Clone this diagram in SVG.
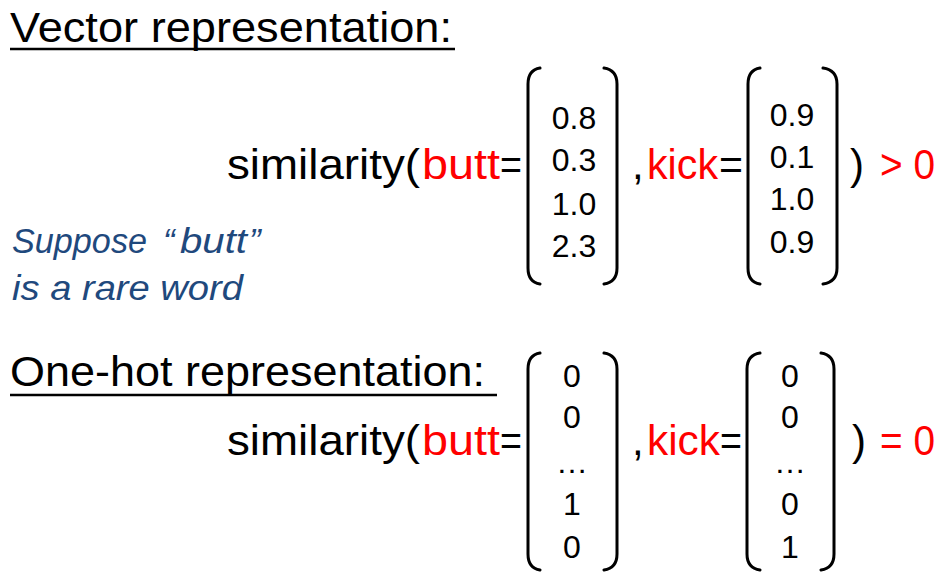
<svg xmlns="http://www.w3.org/2000/svg" width="947" height="578" viewBox="0 0 947 578">
<style>
.t{font-family:"Liberation Sans",Arial,sans-serif;fill:#000}
.big{font-size:42px}
.num{font-size:32px;text-anchor:middle}
.red{fill:#FF0000}
.it{font-family:"Liberation Sans",Arial,sans-serif;font-style:italic;font-size:35px;fill:#1F497D}
.br{fill:none;stroke:#000;stroke-width:3;stroke-linecap:round}
.ul{stroke:#000;stroke-width:2.5}
</style>
<rect width="947" height="578" fill="#fff"/>
<g id="vector-section">
<text class="t big" x="10" y="42" textLength="442" lengthAdjust="spacingAndGlyphs">Vector representation:</text>
<line class="ul" x1="10" y1="49" x2="455" y2="49"/>
<text class="t big" x="227" y="179" textLength="193" lengthAdjust="spacingAndGlyphs">similarity(</text>
<text class="t big red" x="422" y="179" textLength="78" lengthAdjust="spacingAndGlyphs">butt</text>
<text class="t big" x="500" y="179" textLength="22" lengthAdjust="spacingAndGlyphs">=</text>
<path class="br" d="M540 68 Q528 70 528 84 V268 Q528 282 540 284"/>
<path class="br" d="M604 68 Q617 70 617 84 V268 Q617 282 604 284"/>
<text class="t num" x="574" y="129">0.8</text>
<text class="t num" x="574" y="171">0.3</text>
<text class="t num" x="574" y="215">1.0</text>
<text class="t num" x="574" y="257">2.3</text>
<text class="t big" x="632" y="179">,</text>
<text class="t big red" x="647" y="179" textLength="71" lengthAdjust="spacingAndGlyphs">kick</text>
<text class="t big" x="719" y="179" textLength="24" lengthAdjust="spacingAndGlyphs">=</text>
<path class="br" d="M760 68 Q748 70 748 84 V268 Q748 282 760 284"/>
<path class="br" d="M823 68 Q837 70 837 84 V268 Q837 282 823 284"/>
<text class="t num" x="792" y="126">0.9</text>
<text class="t num" x="792" y="168">0.1</text>
<text class="t num" x="792" y="210">1.0</text>
<text class="t num" x="792" y="253">0.9</text>
<text class="t big" x="850" y="179">)</text>
<text class="t big red" x="880" y="179" textLength="55" lengthAdjust="spacingAndGlyphs">&gt; 0</text>
</g>
<g id="note">
<text class="it" x="12" y="253" textLength="135" lengthAdjust="spacingAndGlyphs">Suppose</text>
<text class="it" x="163" y="253">“</text>
<text class="it red" x="180" y="253" textLength="67" lengthAdjust="spacingAndGlyphs">butt</text>
<text class="it" x="249" y="253">”</text>
<text class="it" x="12" y="300" textLength="231" lengthAdjust="spacingAndGlyphs">is a rare word</text>
</g>
<g id="onehot-section">
<text class="t big" x="10" y="386" textLength="475" lengthAdjust="spacingAndGlyphs">One-hot representation:</text>
<line class="ul" x1="10" y1="395" x2="497" y2="395"/>
<text class="t big" x="227" y="455" textLength="193" lengthAdjust="spacingAndGlyphs">similarity(</text>
<text class="t big red" x="422" y="455" textLength="78" lengthAdjust="spacingAndGlyphs">butt</text>
<text class="t big" x="500" y="455" textLength="22" lengthAdjust="spacingAndGlyphs">=</text>
<path class="br" d="M540 353 Q528 355 528 369 V554 Q528 568 540 570"/>
<path class="br" d="M604 353 Q617 355 617 369 V554 Q617 568 604 570"/>
<text class="t num" x="572" y="387">0</text>
<text class="t num" x="572" y="428">0</text>
<text class="t num" x="572" y="473">…</text>
<text class="t num" x="572" y="515">1</text>
<text class="t num" x="572" y="558">0</text>
<text class="t big" x="632" y="455">,</text>
<text class="t big red" x="647" y="455" textLength="73" lengthAdjust="spacingAndGlyphs">kick</text>
<text class="t big" x="720" y="455" textLength="22" lengthAdjust="spacingAndGlyphs">=</text>
<path class="br" d="M760 353 Q747 355 747 369 V554 Q747 568 760 570"/>
<path class="br" d="M821 353 Q834 355 834 369 V554 Q834 568 821 570"/>
<text class="t num" x="790" y="387">0</text>
<text class="t num" x="790" y="428">0</text>
<text class="t num" x="790" y="473">…</text>
<text class="t num" x="790" y="515">0</text>
<text class="t num" x="790" y="558">1</text>
<text class="t big" x="852" y="455">)</text>
<text class="t big red" x="880" y="455" textLength="55" lengthAdjust="spacingAndGlyphs">= 0</text>
</g>
</svg>
